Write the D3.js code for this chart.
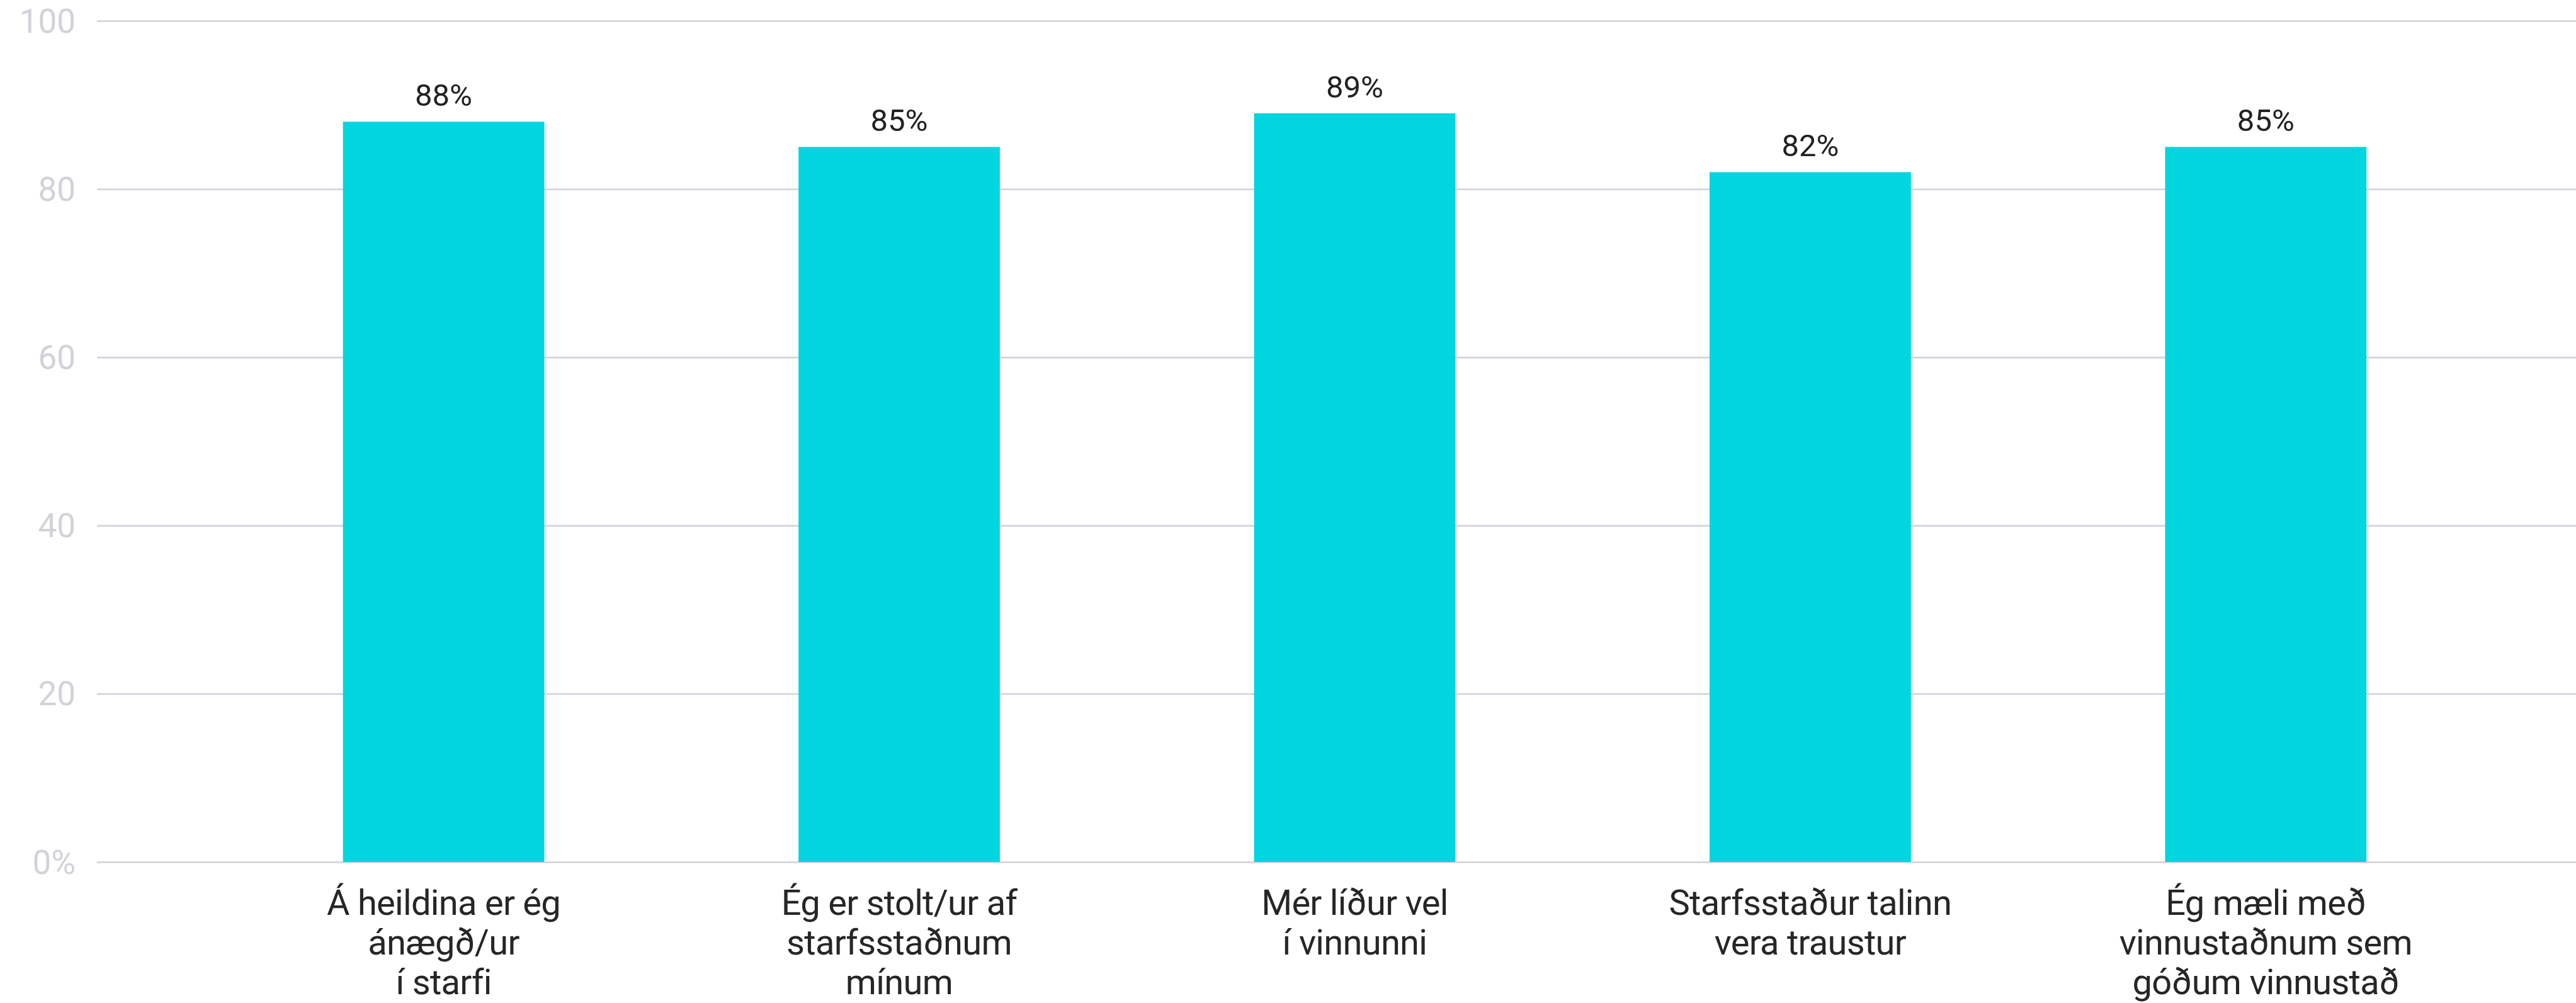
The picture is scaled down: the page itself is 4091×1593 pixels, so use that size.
<!DOCTYPE html>
<html>
<head>
<meta charset="utf-8">
<script src="https://cdn.jsdelivr.net/npm/d3@7"></script>
<style>
  html, body { margin: 0; padding: 0; background: #ffffff; }
  svg { display: block; }
</style>
</head>
<body>
<svg id="chart" width="4091" height="1593"></svg>
<script>
// ---- data ----
const categories = [
  ["Á heildina er ég", "ánægð/ur", "í starfi"],
  ["Ég er stolt/ur af", "starfsstaðnum", "mínum"],
  ["Mér líður vel", "í vinnunni"],
  ["Starfsstaður talinn", "vera traustur"],
  ["Ég mæli með", "vinnustaðnum sem", "góðum vinnustað"]
];
const values = [88, 85, 89, 82, 85];
const yTicks = [0, 20, 40, 60, 80, 100];
const yTickLabels = ["0%", "20", "40", "60", "80", "100"];

// ---- layout ----
const W = 4091, H = 1593;
const plot = { left: 154, right: 4091, top: 33, bottom: 1369 };
const svg = d3.select("#chart");

const keys = categories.map((c, i) => i);
const x = d3.scaleBand()
  .domain(keys)
  .range([plot.left, plot.right])
  .paddingInner(0.558)
  .paddingOuter(0.5)
  .align(0.54);

const y = d3.scaleLinear().domain([0, 100]).range([plot.bottom, plot.top]);

// gridlines
const yAxis = d3.axisLeft(y)
  .tickValues(yTicks)
  .tickSize(-(plot.right - plot.left))
  .tickFormat((d, i) => yTickLabels[yTicks.indexOf(d)]);

const gy = svg.append("g")
  .attr("transform", `translate(${plot.left},0)`)
  .call(yAxis);
gy.select(".domain").remove();
gy.selectAll(".tick line")
  .attr("stroke", "#d0d3d9")
  .attr("stroke-width", 2.6);
gy.selectAll(".tick text")
  .attr("x", -34)
  .attr("dy", "0.34em")
  .attr("fill", "#d2d2d8")
  .attr("font-family", "Roboto, sans-serif")
  .attr("font-size", 53)
  .attr("text-anchor", "end");

// bars
svg.append("g").selectAll("rect")
  .data(values)
  .join("rect")
  .attr("x", (d, i) => x(i))
  .attr("width", x.bandwidth())
  .attr("y", d => y(d))
  .attr("height", d => y(0) - y(d))
  .attr("fill", "#00d5e0");

// value labels
svg.append("g").selectAll("text")
  .data(values)
  .join("text")
  .attr("x", (d, i) => x(i) + x.bandwidth() / 2)
  .attr("y", d => y(d) - 25)
  .attr("text-anchor", "middle")
  .attr("fill", "#222222")
  .attr("font-family", "Roboto, sans-serif")
  .attr("font-size", 49)
  .text(d => d + "%");

// category labels
const lab = svg.append("g").selectAll("text")
  .data(categories)
  .join("text")
  .attr("x", (d, i) => x(i) + x.bandwidth() / 2)
  .attr("y", plot.bottom + 84)
  .attr("text-anchor", "middle")
  .attr("fill", "#262626")
  .attr("font-family", "Roboto, sans-serif")
  .attr("font-size", 56)
  .attr("letter-spacing", -0.7);

lab.selectAll("tspan")
  .data(d => d)
  .join("tspan")
  .attr("x", function () { return d3.select(this.parentNode).attr("x"); })
  .attr("dy", (d, i) => i === 0 ? 0 : 63)
  .text(d => d);
</script>
</body>
</html>
